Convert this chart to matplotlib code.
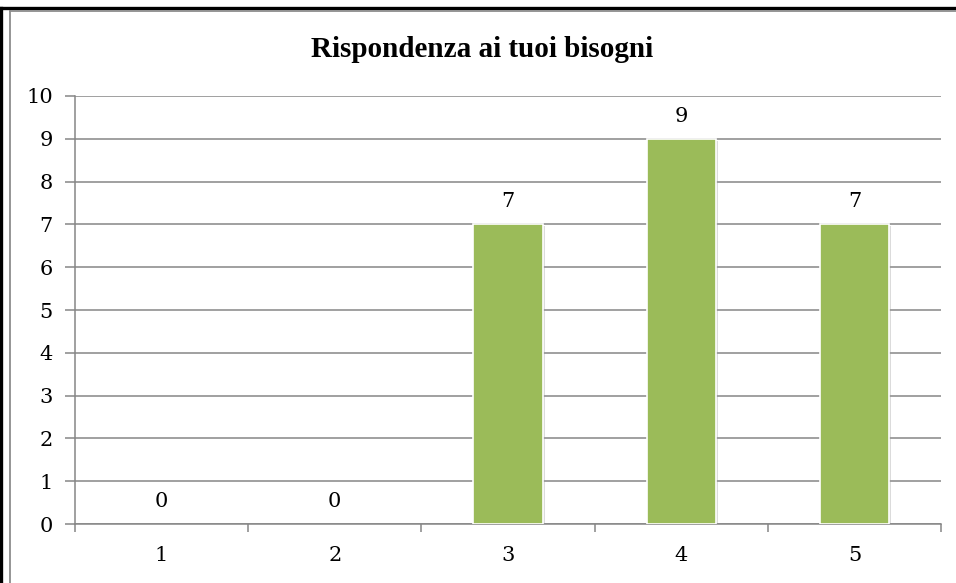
import matplotlib
matplotlib.use('Agg')
import matplotlib.pyplot as plt
from matplotlib.lines import Line2D
import matplotlib.patheffects as pe

categories = ['1', '2', '3', '4', '5']
values = [0, 0, 7, 9, 7]
y_ticks = list(range(0, 11))
title = 'Rispondenza ai tuoi bisogni'

W, H = 956, 583
fig = plt.figure(figsize=(W / 100, H / 100), dpi=100)
fig.patch.set_facecolor('white')

# page frame: black rule on top and left, grey chart border inside
def line_px(x0, y0, x1, y1, **kw):
    fig.add_artist(Line2D([x0 / W, x1 / W], [1 - y0 / H, 1 - y1 / H],
                          transform=fig.transFigure, **kw))

line_px(0, 8, W, 8, color='black', lw=2.4)
line_px(1.2, 8, 1.2, H, color='black', lw=2.4)
line_px(9.5, 10.5, W, 10.5, color='#8c8c8c', lw=1.3)
line_px(9.5, 10.5, 9.5, H, color='#8c8c8c', lw=1.3)

ax = fig.add_axes([75 / W, (H - 524) / H, 866 / W, 428 / H])
digits = ['DejaVu Serif']
fs = 15

x = list(range(1, len(categories) + 1))
bars = ax.bar(x, values, width=0.4, color='#9bbb59', edgecolor='white', linewidth=1.2, zorder=3)
for b, v in zip(bars, values):
    if v == 0:
        b.set_visible(False)
        continue
    b.set_path_effects([pe.SimplePatchShadow(offset=(1.5, -1.5), shadow_rgbFace='#9a9a9a', alpha=0.35),
                        pe.Normal()])

for xi, v in zip(x, values):
    ax.text(xi, v + 0.4, str(v), ha='center', va='baseline', fontsize=fs,
            family=digits, color='black', zorder=4)

ax.set_xlim(0.5, len(categories) + 0.5)
ax.set_ylim(0, 10)
ax.set_yticks(y_ticks)
ax.set_yticklabels([str(t) for t in y_ticks], family=digits, fontsize=fs)
ax.yaxis.grid(True, color='#868686', lw=1.1, zorder=0)
ax.set_axisbelow(True)

ax.set_xticks([i + 0.5 for i in range(len(categories) + 1)])
ax.set_xticklabels([])
ax.set_xticks(x, minor=True)
ax.set_xticklabels(categories, minor=True, family=digits, fontsize=fs)
ax.tick_params(axis='x', which='major', length=6, width=1.1, color='#868686', direction='out')
ax.tick_params(axis='x', which='minor', length=0, pad=16)
ax.tick_params(axis='y', length=7, width=1.1, color='#868686', direction='out', pad=9)

for s in ['top', 'right']:
    ax.spines[s].set_visible(False)
for s in ['left', 'bottom']:
    ax.spines[s].set_color('#868686')
    ax.spines[s].set_linewidth(1.1)

fig.text(482 / W, 1 - 57 / H, title, ha='center', va='baseline', fontsize=21,
         fontweight='bold', family=['Liberation Serif', 'DejaVu Serif'])

fig.savefig('out.png', dpi=100)
